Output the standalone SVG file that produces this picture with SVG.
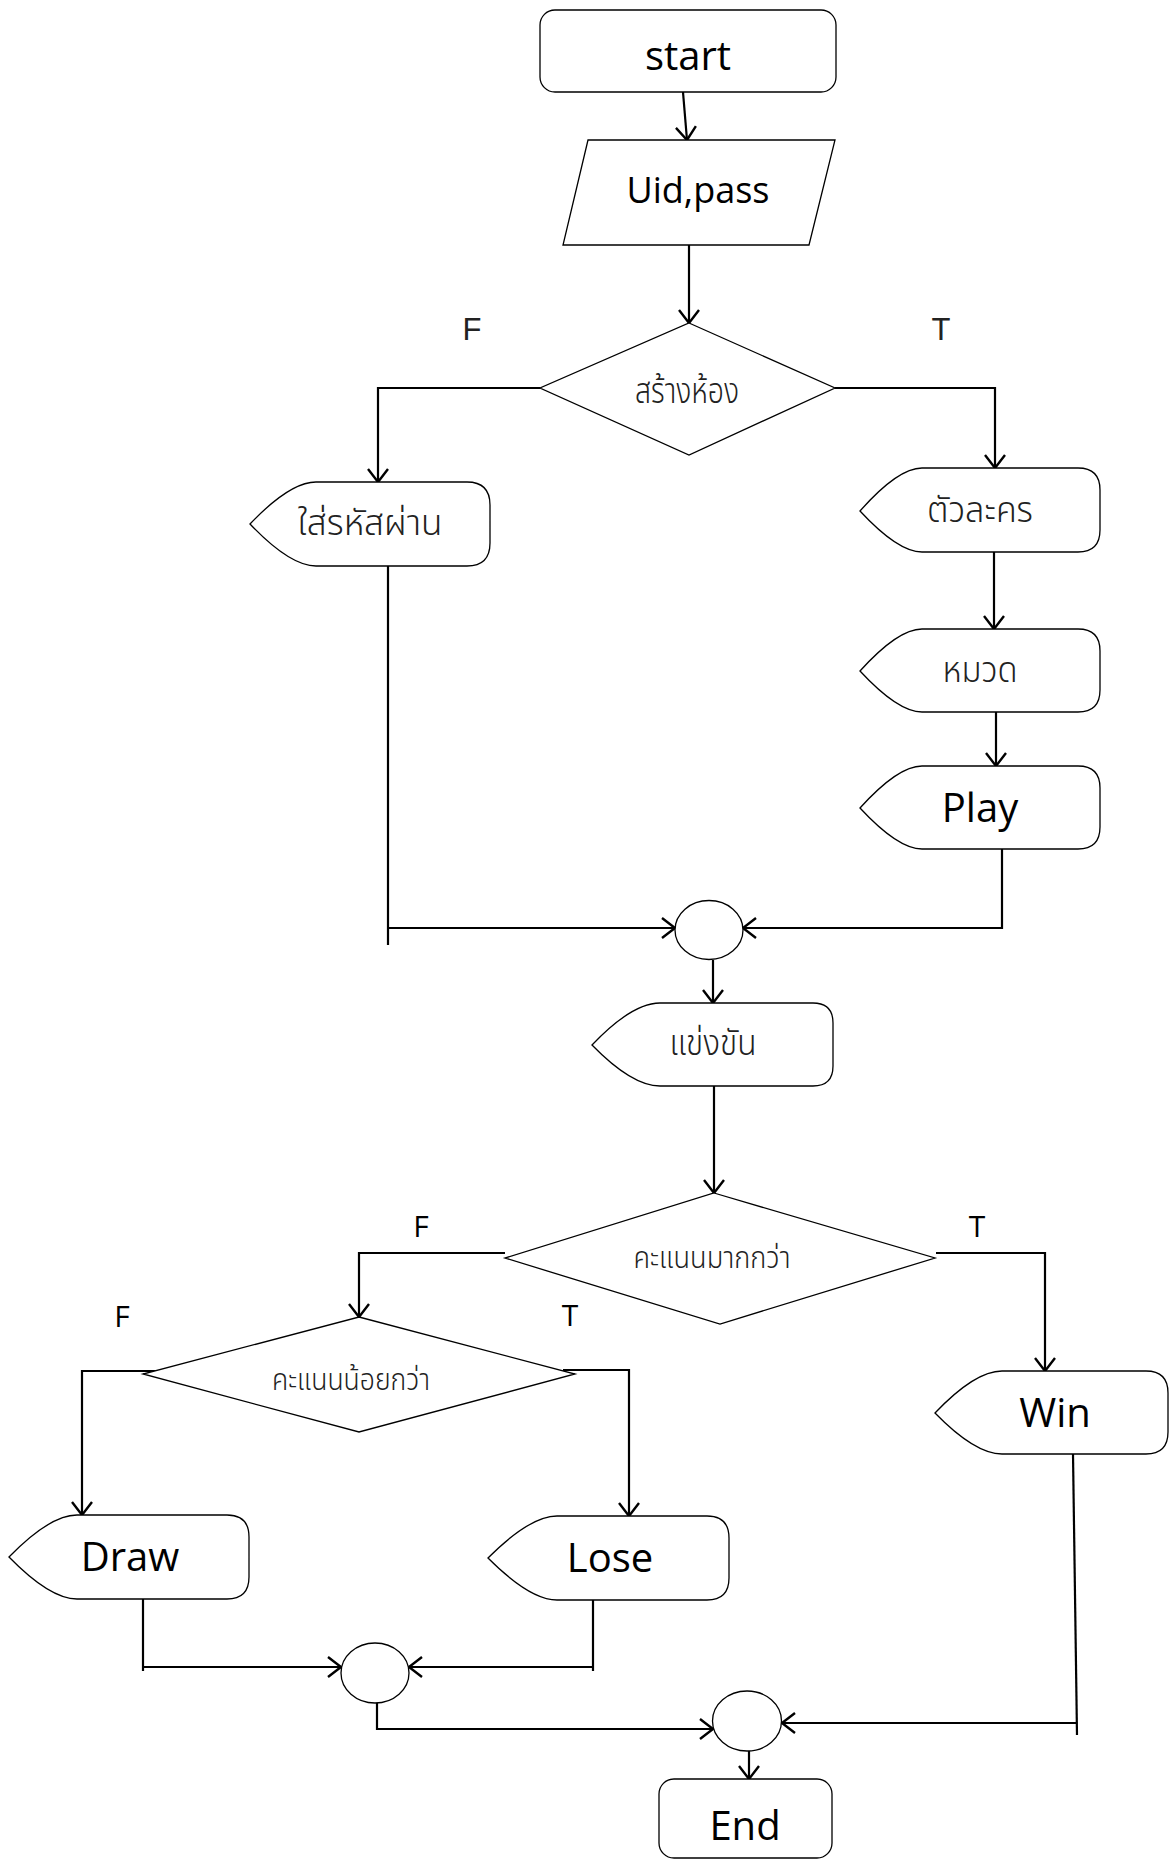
<svg xmlns="http://www.w3.org/2000/svg" width="1169" height="1859" viewBox="0 0 1169 1859">
<style>
.shape{fill:#fff;stroke:#000;stroke-width:1.3}
.conn{fill:none;stroke:#000;stroke-width:2.2}
.en{font-family:"Open Sans","Liberation Sans",sans-serif;font-size:40px;fill:#000;text-anchor:middle}
.lbl{font-family:"Liberation Sans","Open Sans",sans-serif;font-size:31px;fill:#222;text-anchor:middle}
.lbl2{font-family:"Open Sans","Liberation Sans",sans-serif;font-size:30px;fill:#000;text-anchor:middle}
.th{font-family:"Noto Sans Thai","Noto Sans","DejaVu Sans",sans-serif;font-size:36px;font-weight:300;fill:#222;text-anchor:middle}
.th2{font-family:"Noto Sans Thai","Noto Sans","DejaVu Sans",sans-serif;font-size:30px;font-weight:300;fill:#222;text-anchor:middle}
</style>
<defs>
<marker id="arr" markerUnits="userSpaceOnUse" markerWidth="30" markerHeight="30" refX="15" refY="15" orient="auto" overflow="visible">
<path d="M2,5 L15,15 L2,25" fill="none" stroke="#000" stroke-width="2.4"/>
</marker>
</defs>
<rect width="1169" height="1859" fill="#fff"/>

<g id="connectors">
<path class="conn" d="M683,92 L687,140" marker-end="url(#arr)"/>
<path class="conn" d="M689,245 L689,323" marker-end="url(#arr)"/>
<path class="conn" d="M540,388 L378,388 L378,482" marker-end="url(#arr)"/>
<path class="conn" d="M835,388 L995,388 L995,468" marker-end="url(#arr)"/>
<path class="conn" d="M994,552 L994,629" marker-end="url(#arr)"/>
<path class="conn" d="M996,712 L996,766" marker-end="url(#arr)"/>
<path class="conn" d="M388,566 L388,945"/>
<path class="conn" d="M388,928 L675,928" marker-end="url(#arr)"/>
<path class="conn" d="M1002,849 L1002,928 L743,928" marker-end="url(#arr)"/>
<path class="conn" d="M713,960 L713,1003" marker-end="url(#arr)"/>
<path class="conn" d="M714,1086 L714,1193" marker-end="url(#arr)"/>
<path class="conn" d="M505,1253 L359,1253 L359,1317" marker-end="url(#arr)"/>
<path class="conn" d="M936,1253 L1045,1253 L1045,1371" marker-end="url(#arr)"/>
<path class="conn" d="M157,1371 L82,1371 L82,1515" marker-end="url(#arr)"/>
<path class="conn" d="M563,1370 L629,1370 L629,1516" marker-end="url(#arr)"/>
<path class="conn" d="M143,1599 L143,1671"/>
<path class="conn" d="M143,1667 L341,1667" marker-end="url(#arr)"/>
<path class="conn" d="M593,1600 L593,1671"/>
<path class="conn" d="M593,1667 L409,1667" marker-end="url(#arr)"/>
<path class="conn" d="M377,1703 L377,1729 L713,1729" marker-end="url(#arr)"/>
<path class="conn" d="M1073,1454 L1077,1735"/>
<path class="conn" d="M1077,1723 L782,1723" marker-end="url(#arr)"/>
<path class="conn" d="M749,1751 L749,1779" marker-end="url(#arr)"/>
</g>

<g id="start">
<rect class="shape" x="540" y="10" width="296" height="82" rx="15"/>
<text class="en" x="688" y="70">start</text>
</g>

<g id="input">
<polygon class="shape" points="588,140 835,140 809,245 563,245"/>
<text class="en" x="698" y="203" style="font-size:36px">Uid,pass</text>
</g>

<g id="decision1">
<polygon class="shape" points="689,323 835,388 689,455 540,388"/>
<text class="th" x="687" y="403" textLength="104" lengthAdjust="spacingAndGlyphs">สร้างห้อง</text>
</g>

<g id="labels1">
<text class="lbl" x="472" y="340">F</text>
<text class="lbl" x="941" y="340">T</text>
</g>

<g id="password">
<path class="shape" d="M250,524 Q290,482 316,482 L467,482 Q490,482 490,505 L490,543 Q490,566 467,566 L316,566 Q290,566 250,524 Z"/>
<text class="th" x="370" y="535" textLength="145" lengthAdjust="spacingAndGlyphs">ใส่รหัสผ่าน</text>
</g>

<g id="character">
<path class="shape" d="M860,511 Q898,468 922,468 L1078,468 Q1100,468 1100,490 L1100,530 Q1100,552 1078,552 L922,552 Q898,552 860,511 Z"/>
<text class="th" x="980" y="522" textLength="106" lengthAdjust="spacingAndGlyphs">ตัวละคร</text>
</g>

<g id="category">
<path class="shape" d="M860,671 Q898,629 922,629 L1078,629 Q1100,629 1100,651 L1100,690 Q1100,712 1078,712 L922,712 Q898,712 860,671 Z"/>
<text class="th" x="980" y="682" textLength="75" lengthAdjust="spacingAndGlyphs">หมวด</text>
</g>

<g id="play">
<path class="shape" d="M860,808 Q898,766 922,766 L1078,766 Q1100,766 1100,788 L1100,827 Q1100,849 1078,849 L922,849 Q898,849 860,808 Z"/>
<text class="en" x="980" y="822">Play</text>
</g>

<g id="merge1">
<ellipse class="shape" cx="709" cy="930" rx="34" ry="29.5"/>
</g>

<g id="compete">
<path class="shape" d="M592,1045 Q632,1003 660,1003 L813,1003 Q833,1003 833,1023 L833,1066 Q833,1086 813,1086 L660,1086 Q632,1086 592,1045 Z"/>
<text class="th" x="713" y="1055" textLength="87" lengthAdjust="spacingAndGlyphs">แข่งขัน</text>
</g>

<g id="decision2">
<polygon class="shape" points="714,1193 935,1258 720,1324 505,1258"/>
<text class="th2" x="712" y="1268" textLength="157" lengthAdjust="spacingAndGlyphs">คะแนนมากกว่า</text>
</g>

<g id="labels2">
<text class="lbl2" x="421" y="1237">F</text>
<text class="lbl2" x="977" y="1237">T</text>
<text class="lbl2" x="122" y="1327">F</text>
<text class="lbl2" x="570" y="1326">T</text>
</g>

<g id="decision3">
<polygon class="shape" points="359,1317 575,1374 359,1432 143,1374"/>
<text class="th2" x="351" y="1390" textLength="158" lengthAdjust="spacingAndGlyphs">คะแนนน้อยกว่า</text>
</g>

<g id="win">
<path class="shape" d="M935,1413 Q975,1371 1002,1371 L1146,1371 Q1168,1371 1168,1393 L1168,1432 Q1168,1454 1146,1454 L1002,1454 Q975,1454 935,1413 Z"/>
<text class="en" x="1055" y="1427">Win</text>
</g>

<g id="draw">
<path class="shape" d="M9,1557 Q50,1515 77,1515 L227,1515 Q249,1515 249,1537 L249,1577 Q249,1599 227,1599 L77,1599 Q50,1599 9,1557 Z"/>
<text class="en" x="130" y="1571">Draw</text>
</g>

<g id="lose">
<path class="shape" d="M488,1558 Q530,1516 557,1516 L707,1516 Q729,1516 729,1538 L729,1578 Q729,1600 707,1600 L557,1600 Q530,1600 488,1558 Z"/>
<text class="en" x="610" y="1572">Lose</text>
</g>

<g id="merge2">
<ellipse class="shape" cx="375" cy="1673" rx="34" ry="30"/>
</g>

<g id="merge3">
<ellipse class="shape" cx="747" cy="1721" rx="34.5" ry="30"/>
</g>

<g id="end">
<rect class="shape" x="659" y="1779" width="173" height="79" rx="15"/>
<text class="en" x="745" y="1840">End</text>
</g>
</svg>
